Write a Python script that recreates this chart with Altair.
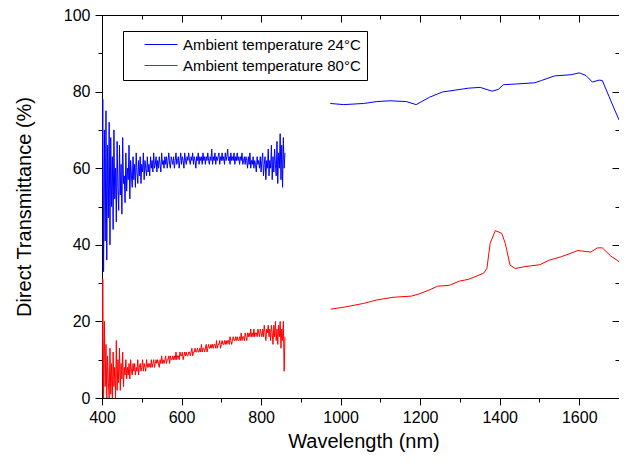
import altair as alt
import pandas as pd

series_names = ["Ambient temperature 24°C", "Ambient temperature 80°C"]
series_colors = ["#0000ff", "#ff0000"]

# noisy (visible detector) segment: 400..860 nm every 2 nm
noisy_start = 400
noisy_step = 2
blue_noisy = [
    52, 78, 33, 70, 41, 75, 36, 66, 47, 72,
    40, 68, 50, 63, 44, 70, 52, 60, 46, 67,
    55, 49, 66, 53, 61, 48, 68, 56, 58, 51,
    64, 54, 60, 57, 66, 52, 62, 58, 55, 63,
    57, 61, 55, 64, 59, 56, 62, 58, 63, 56,
    61, 59, 64, 57, 62, 60, 58, 63, 59, 61,
    58, 63, 60, 62, 59, 64, 60, 61, 63, 59,
    62, 60, 63, 61, 59, 64, 61, 62, 60, 63,
    61, 63, 60, 62, 64, 61, 60, 63, 62, 61,
    63, 60, 62, 64, 61, 62, 63, 60, 62, 64,
    61, 63, 62, 60, 64, 62, 61, 63, 62, 64,
    62, 61, 63, 62, 64, 61, 63, 62, 60, 63,
    62, 64, 61, 63, 62, 63, 61, 64, 62, 63,
    61, 63, 62, 64, 62, 61, 63, 62, 65, 61,
    63, 62, 64, 61, 63, 62, 63, 64, 61, 63,
    62, 64, 62, 63, 61, 64, 62, 63, 65, 62,
    63, 61, 64, 62, 63, 62, 64, 61, 63, 62,
    64, 62, 63, 61, 63, 62, 64, 61, 62, 63,
    61, 63, 62, 60, 63, 61, 64, 60, 62, 61,
    63, 60, 62, 61, 59, 63, 61, 62, 60, 63,
    59, 62, 64, 58, 61, 63, 57, 62, 60, 65,
    58, 62, 60, 66, 57, 63, 59, 65, 61, 58,
    67, 56, 64, 60, 69, 57, 66, 55, 68, 60,
    64,
]
red_noisy = [
    2, 31, 0, 20, 3, 14, 0, 11, 4, 0,
    13, 1, 9, 0, 12, 3, 8, 0, 15, 2,
    10, 4, 13, 2, 9, 5, 12, 3, 8, 6,
    10, 5, 8, 6, 9, 5, 10, 7, 6, 9,
    7, 9, 6, 8, 7, 10, 6, 8, 9, 7,
    8, 10, 7, 9, 8, 7, 10, 8, 9, 8,
    9, 8, 10, 8, 9, 10, 8, 9, 10, 9,
    10, 9, 8, 10, 9, 11, 9, 10, 9, 10,
    11, 9, 10, 10, 11, 9, 11, 10, 10, 11,
    10, 11, 10, 12, 10, 11, 11, 10, 12, 11,
    11, 12, 10, 11, 12, 11, 12, 11, 11, 12,
    12, 11, 12, 13, 11, 12, 12, 13, 12, 12,
    13, 12, 12, 13, 12, 14, 12, 13, 13, 12,
    13, 14, 12, 13, 14, 13, 13, 14, 13, 14,
    13, 14, 14, 13, 15, 13, 14, 14, 15, 13,
    14, 15, 14, 14, 15, 14, 15, 14, 15, 15,
    14, 16, 15, 14, 15, 16, 15, 15, 16, 15,
    16, 15, 15, 16, 15, 17, 15, 16, 16, 15,
    17, 16, 15, 17, 16, 17, 16, 18, 16, 17,
    16, 18, 16, 17, 17, 16, 18, 17, 16, 18,
    17, 16, 18, 16, 19, 17, 15, 18, 17, 19,
    16, 18, 15, 19, 17, 14, 19, 16, 20, 15,
    18, 14, 19, 16, 20, 13, 18, 15, 20, 7,
    16,
]

# smooth (NIR detector) segment
blue_nir_wl = [974, 1008, 1058, 1091, 1124, 1165, 1190, 1223, 1256, 1289, 1322, 1351,
               1381, 1397, 1409, 1443, 1488, 1505, 1538, 1579, 1600, 1617, 1633, 1650,
               1658, 1675, 1700]
blue_nir_val = [76.9, 76.6, 76.9, 77.4, 77.6, 77.4, 76.6, 78.5, 79.9, 80.4, 80.9, 81.1,
                80.1, 80.6, 81.8, 82.0, 82.3, 82.9, 84.1, 84.4, 84.9, 84.2, 82.5, 83.0,
                82.9, 78.7, 72.6]
red_nir_wl = [975, 1008, 1058, 1091, 1132, 1178, 1198, 1223, 1244, 1273, 1298, 1322,
              1360, 1368, 1376, 1389, 1405, 1414, 1426, 1439, 1463, 1501, 1525, 1555,
              1579, 1596, 1629, 1646, 1658, 1679, 1700]
red_nir_val = [23.2, 23.7, 24.7, 25.6, 26.3, 26.6, 27.2, 28.2, 29.2, 29.4, 30.5, 31.0,
               32.6, 33.9, 40.4, 43.7, 43.0, 40.4, 34.7, 33.8, 34.3, 34.8, 36.0, 36.9,
               37.8, 38.5, 38.1, 39.2, 39.2, 37.1, 35.6]

x_major = [400, 600, 800, 1000, 1200, 1400, 1600]
x_minor = [500, 700, 900, 1100, 1300, 1500, 1700]
y_major = [0, 20, 40, 60, 80, 100]
y_minor = [10, 30, 50, 70, 90]

rows = []
for name, vals in [(series_names[0], blue_noisy), (series_names[1], red_noisy)]:
    for i, v in enumerate(vals):
        rows.append({"series": name, "seg": name + " vis", "wl": noisy_start + i * noisy_step, "T": v})
for name, wls, vals in [(series_names[0], blue_nir_wl, blue_nir_val),
                        (series_names[1], red_nir_wl, red_nir_val)]:
    for w, v in zip(wls, vals):
        rows.append({"series": name, "seg": name + " nir", "wl": w, "T": v})
df = pd.DataFrame(rows)

FONT = "Liberation Sans"
W, H = 517, 383
xs = alt.Scale(domain=[400, 1700], nice=False, zero=False)
ys = alt.Scale(domain=[0, 100], nice=False, zero=False)

common = dict(grid=False, tickColor="black", domainColor="black", tickWidth=1, domainWidth=1,
              labelColor="black", labelFont=FONT, labelFontSize=16, titleFont=FONT,
              titleFontSize=20, titleFontWeight="normal", titleColor="black", labelFlush=False)

main = alt.Chart(df).mark_line(strokeWidth=1, clip=True).encode(
    x=alt.X("wl:Q", scale=xs, axis=alt.Axis(
        values=x_major, format="d", tickSize=7, labelPadding=4, title="Wavelength (nm)",
        titleY=43, titleBaseline="middle", titleAlign="center", titleX=W / 2 + 3, **common)),
    y=alt.Y("T:Q", scale=ys, axis=alt.Axis(
        values=y_major, format="d", tickSize=7, labelPadding=5, title="Direct Transmittance (%)",
        titleX=-78, titleY=H / 2, titleAngle=-90, titleBaseline="middle", titleAlign="center",
        **common)),
    color=alt.Color("series:N", scale=alt.Scale(domain=series_names, range=series_colors),
                    legend=alt.Legend(title=None, orient="none", legendX=21, legendY=16,
                                      strokeColor="black", fillColor="white", padding=6,
                                      symbolType="stroke", symbolSize=1089, symbolStrokeWidth=1,
                                      symbolOffset=15, labelOffset=5, clipHeight=15,
                                      rowPadding=5, labelFont=FONT, labelFontSize=15,
                                      labelLimit=400, labelColor="black", cornerRadius=0)),
    detail="seg:N",
)


def ghost(x_axis, y_axis):
    return alt.Chart(df).mark_line(opacity=0).encode(
        x=alt.X("wl:Q", scale=xs, axis=x_axis),
        y=alt.Y("T:Q", scale=ys, axis=y_axis),
        detail="seg:N",
    )


tick_common = dict(grid=False, tickColor="black", tickWidth=1, labels=False, domain=False, title=None)

minor_bl = ghost(alt.Axis(orient="bottom", values=x_minor, tickSize=4, **tick_common),
                 alt.Axis(orient="left", values=y_minor, tickSize=4, **tick_common))
major_tr = ghost(alt.Axis(orient="top", values=x_major, tickSize=7, offset=-7, **tick_common),
                 alt.Axis(orient="right", values=y_major, tickSize=7, offset=-7, **tick_common))
minor_tr = ghost(alt.Axis(orient="top", values=x_minor, tickSize=4, offset=-4, **tick_common),
                 alt.Axis(orient="right", values=y_minor, tickSize=4, offset=-4, **tick_common))

chart = alt.layer(main, minor_bl, major_tr, minor_tr).resolve_axis(
    x="independent", y="independent"
).properties(
    width=W, height=H,
    autosize=alt.AutoSizeParams(type="none"),
    padding={"left": 94, "top": 7, "right": 0, "bottom": 58},
    background="white",
).configure_view(stroke="black", strokeWidth=1)

chart.save("out.html", embed_options={"renderer": "svg", "actions": False})
